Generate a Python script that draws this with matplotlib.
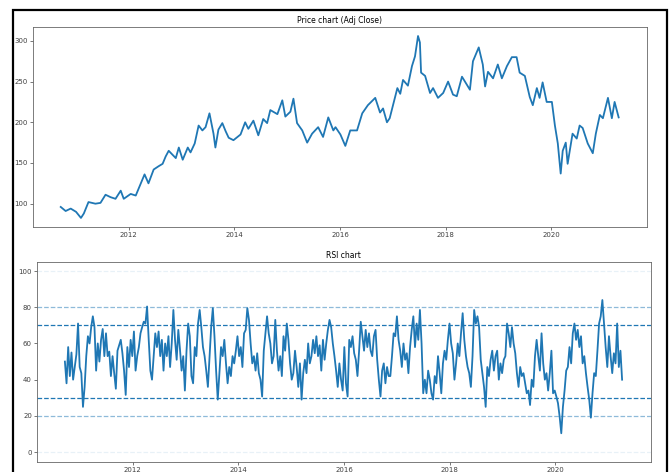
import pandas as pd
import matplotlib
matplotlib.use('Agg')
import matplotlib.pyplot as plt
import matplotlib.dates as mdates
from matplotlib.patches import Rectangle

# values
price_dates = ['2010-09-17', '2010-10-21', '2010-11-25', '2011-01-01', '2011-02-04', '2011-02-24',
               '2011-03-28', '2011-05-15', '2011-06-19', '2011-07-24', '2011-08-28', '2011-10-01',
               '2011-11-06', '2011-11-27', '2012-01-14', '2012-02-18', '2012-03-22', '2012-04-19',
               '2012-05-16', '2012-06-21', '2012-07-25', '2012-08-22', '2012-09-12', '2012-10-03',
               '2012-11-21', '2012-12-12', '2013-01-08', '2013-02-12', '2013-03-03', '2013-04-01',
               '2013-04-28', '2013-05-24', '2013-06-15', '2013-07-12', '2013-08-09', '2013-08-22',
               '2013-09-12', '2013-10-09', '2013-11-01', '2013-11-22', '2013-12-25', '2014-02-12',
               '2014-03-16', '2014-04-07', '2014-05-12', '2014-06-15', '2014-07-19', '2014-08-15',
               '2014-09-06', '2014-10-25', '2014-11-28', '2014-12-19', '2015-01-23', '2015-02-13',
               '2015-03-10', '2015-04-15', '2015-05-19', '2015-06-22', '2015-08-03', '2015-09-06',
               '2015-10-12', '2015-11-16', '2015-12-01', '2016-01-04', '2016-02-07', '2016-03-12',
               '2016-04-28', '2016-06-03', '2016-07-12', '2016-09-01', '2016-10-04', '2016-10-25',
               '2016-11-21', '2016-12-10', '2017-02-01', '2017-02-21', '2017-03-12', '2017-04-15',
               '2017-05-13', '2017-06-03', '2017-06-24', '2017-07-07', '2017-07-15', '2017-08-12',
               '2017-09-15', '2017-10-06', '2017-11-09', '2017-12-15', '2018-01-18', '2018-02-21',
               '2018-03-19', '2018-04-24', '2018-05-28', '2018-06-18', '2018-07-09', '2018-08-18',
               '2018-09-15', '2018-10-01', '2018-10-21', '2018-11-25', '2018-12-28', '2019-01-25',
               '2019-03-01', '2019-04-04', '2019-05-07', '2019-05-28', '2019-07-03', '2019-08-06',
               '2019-08-27', '2019-09-24', '2019-10-13', '2019-11-03', '2019-12-01', '2020-01-06',
               '2020-01-27', '2020-02-16', '2020-03-07', '2020-03-21', '2020-04-11', '2020-04-24',
               '2020-05-28', '2020-06-26', '2020-07-16', '2020-08-06', '2020-09-10', '2020-10-15',
               '2020-11-05', '2020-12-03', '2020-12-24', '2021-01-28', '2021-02-24', '2021-03-15',
               '2021-04-12']
price_close = [96, 91, 94, 90, 82.5, 88,
               102, 100, 101, 111, 108, 106,
               116, 106, 112, 110, 124, 136,
               125, 142, 146, 149, 158, 165,
               156, 169, 154, 169, 163, 174,
               196, 190, 194, 211, 186, 169,
               191, 199, 189, 181, 178, 185,
               200, 192, 202, 184, 204, 199,
               215, 210, 227, 207, 213, 229,
               199, 190, 175, 186, 194, 182,
               206, 190, 194, 185, 171, 190,
               190, 211, 221, 230, 212, 217,
               200, 205, 242, 235, 252, 245,
               269, 281, 306, 298, 261, 257,
               236, 242, 230, 236, 250, 234,
               232, 256, 246, 240, 275, 292,
               271, 244, 262, 254, 271, 254,
               269, 280, 280, 261, 257, 231,
               221, 242, 230, 249, 225, 225,
               196, 174, 137, 165, 175, 149,
               186, 180, 196, 193, 174, 162,
               186, 209, 205, 230, 205, 225,
               206]

rsi_start = '2010-09-18'
rsi_end = '2021-04-08'
rsi_values = [50, 38, 58, 42, 55, 40, 47, 54, 71, 47, 43.6, 25, 36, 53, 64, 60, 69, 75, 69, 45,
              60, 50, 62, 68, 53, 65.6, 53, 55.5, 42, 53, 43.6, 35, 56, 59, 62, 54.6, 45, 31.6, 58, 47,
              62, 53, 66.6, 45, 53, 58, 65.6, 69, 72, 71, 80.4, 62, 45, 40, 53, 65.6, 58, 66.6, 53, 62,
              45, 60, 53, 64, 47, 60, 78.5, 62, 51, 67.5, 57, 45, 53, 34, 56, 71, 64, 42, 38, 58, 53,
              71, 78.5, 69, 58, 53, 45, 36, 53, 69, 79.5, 64, 45, 29, 43.6, 58, 53, 62, 49, 38, 47,
              42, 53, 49, 56, 64, 53, 58, 47, 65.6, 67.5, 79.5, 73, 60, 49, 53, 45, 54.6, 43.6, 40, 30.7,
              56, 65.6, 75, 65.6, 60, 49, 53, 73, 56, 45, 53, 42, 64, 56, 71, 62, 49, 40, 43.6, 56,
              47, 36, 49, 29, 43.6, 51, 43.6, 60, 49, 53, 62, 54.6, 64, 53, 59, 45, 62, 51, 60, 67.5,
              73, 69, 60, 53,
              45, 36, 49, 40, 34, 58, 38, 30.7, 62, 58, 64, 54.6, 51, 42, 56, 72, 64, 56, 67.5, 58,
              65.6, 56, 53, 64, 67.5, 51, 40, 30.7, 45, 49, 38, 47, 42, 42, 53, 65.6, 64, 75, 62, 56,
              47, 60, 51, 54.6, 43.6, 58, 67.5, 75, 58, 71, 62, 78.5, 60, 32.5, 40, 32.5, 45, 40, 32.5, 29,
              42, 38, 53, 43.6, 32.5, 49, 56, 51, 62, 71, 60, 54.6, 40, 49, 60, 53, 65.6, 76.7, 62, 53,
              47, 43.6, 36, 53,
              78.5, 71, 75, 69, 51, 43.6, 36, 25, 47, 42, 51, 56, 45, 53, 56, 40, 49, 43.6, 51, 53,
              71, 65.6, 58, 69, 60, 54.6, 43.6, 36, 47, 42, 43.6, 38, 32.5, 34, 26, 40, 36, 53, 62, 53,
              45, 65.6, 49, 40, 43.6, 34, 43.6, 56, 32.5, 34, 30.7, 27, 19.6, 10.4, 25, 34, 45, 47, 58, 49,
              65.6, 71, 62, 67.5, 58, 64, 49, 53, 43.6, 36, 29, 19, 32.5, 43.6, 42, 56, 71, 75, 84, 71,
              58, 47, 64, 53, 43.6, 54.6, 49, 71, 47, 56, 40]

rsi_levels = [0, 20, 30, 70, 80, 100]
rsi_alphas = [0.1, 0.5, 1.0, 1.0, 0.5, 0.1]

dates = pd.to_datetime(price_dates)
rsi_dates = pd.date_range(rsi_start, rsi_end, periods=len(rsi_values))

fig = plt.figure(figsize=(6.7, 4.72), dpi=100)
ax1 = fig.add_axes([0.049, 0.519, 0.916, 0.424])
ax2 = fig.add_axes([0.055, 0.021, 0.916, 0.424])

ax1.plot(dates, price_close, color='#1f77b4', lw=1.3)
ax1.set_title('Price chart (Adj Close)', fontsize=5.5, pad=3)

ax2.plot(rsi_dates, rsi_values, color='#1f77b4', lw=1.3)
ax2.set_title('RSI chart', fontsize=5.5, pad=3)
for level, a in zip(rsi_levels, rsi_alphas):
    ax2.axhline(level, linestyle='--', alpha=a, color='#1f77b4', lw=0.9)
ax2.set_xlim(ax1.get_xlim())
ax2.set_ylim(-5.5, 105)
ax2.set_yticks([0, 20, 40, 60, 80, 100])

for ax in (ax1, ax2):
    ax.xaxis.set_major_locator(mdates.YearLocator(2))
    ax.xaxis.set_major_formatter(mdates.DateFormatter('%Y'))
    ax.tick_params(labelsize=5, length=2, width=0.5, pad=1.5, colors='0.25')
    for s in ax.spines.values():
        s.set_linewidth(0.6)
        s.set_color('0.4')

# screenshot frame
fig.add_artist(Rectangle((13 / 670, -0.05), 654 / 670, 1.05 - 10 / 472, fill=False,
                         edgecolor='black', lw=1.6, transform=fig.transFigure))

fig.savefig('out.png', dpi=100)
